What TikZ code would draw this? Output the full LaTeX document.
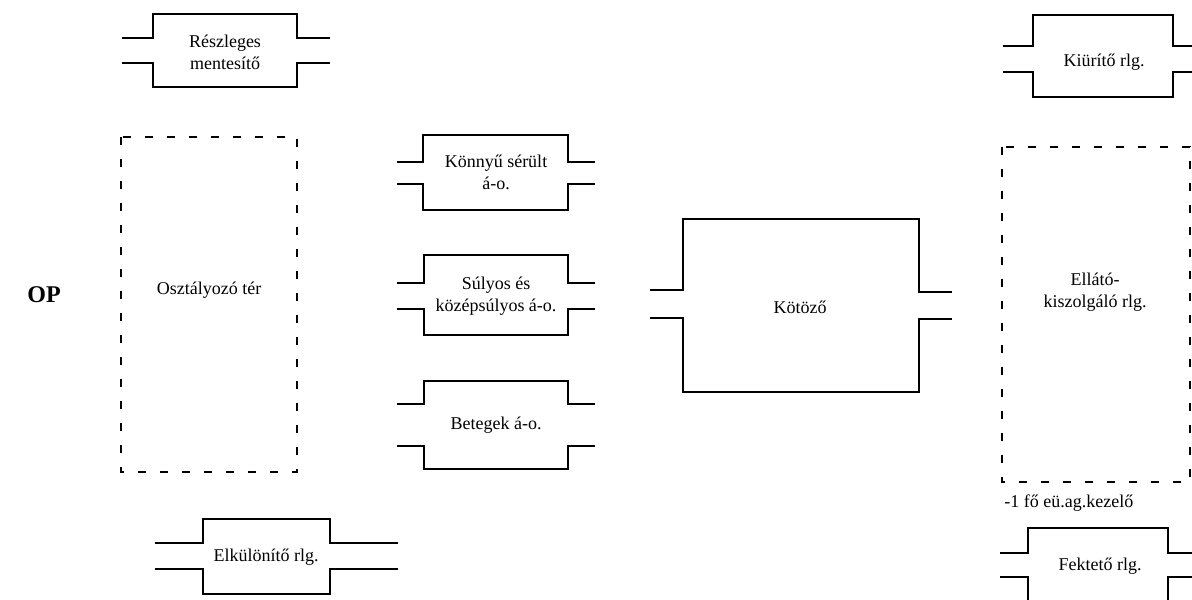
\documentclass[tikz,border=0pt]{standalone}
\usepackage{fontspec}
\setmainfont{Liberation Serif}
\usetikzlibrary{positioning}

\begin{document}
\begin{tikzpicture}
    [
    x=0.5pt,y=-0.5pt,
    wall/.style={line width=0.9pt},
    zone/.style={line width=0.8pt,dash pattern=on 4pt off 7pt},
    roomtext/.style={font=\small,align=center,inner sep=1pt},
    ]
    \useasboundingbox (0,0) rectangle (1192,599);
    \clip (0,0) rectangle (1192,599);

    % left column
    \node (op) at (44,295) [font=\large\bfseries] {OP};
    \node (mentesito) at (225,52) [roomtext] {Részleges\\mentesítő};
    \draw [wall] (122,38) -- (153,38) -- (153,14) -- (297,14) -- (297,38) -- (330,38);
    \draw [wall] (122,63) -- (153,63) -- (153,87) -- (297,87) -- (297,63) -- (330,63);

    \node (osztalyozo) at (209,290) [roomtext] {Osztályozó tér};
    \draw [zone] (121,137) rectangle (297,472);

    \node (elkulonito) at (266,557) [roomtext] {Elkülönítő rlg.};
    \draw [wall] (155,543) -- (203,543) -- (203,519) -- (330,519) -- (330,543) -- (398,543);
    \draw [wall] (155,569) -- (203,569) -- (203,594) -- (330,594) -- (330,569) -- (398,569);

    % middle column
    \node (konnyu) at (496,172) [roomtext] {Könnyű sérült\\á-o.};
    \draw [wall] (397,162) -- (423,162) -- (423,135) -- (568,135) -- (568,162) -- (595,162);
    \draw [wall] (397,184) -- (423,184) -- (423,210) -- (568,210) -- (568,184) -- (595,184);

    \node (sulyos) at (496,296) [roomtext] {Súlyos és\\középsúlyos á-o.};
    \draw [wall] (397,283) -- (424,283) -- (424,255) -- (568,255) -- (568,283) -- (595,283);
    \draw [wall] (397,309) -- (424,309) -- (424,335) -- (568,335) -- (568,309) -- (595,309);

    \node (betegek) at (496,425) [roomtext] {Betegek á-o.};
    \draw [wall] (397,404) -- (424,404) -- (424,381) -- (568,381) -- (568,404) -- (595,404);
    \draw [wall] (397,446) -- (424,446) -- (424,469) -- (568,469) -- (568,446) -- (595,446);

    \node (kotozo) at (800,307) [roomtext] {Kötöző};
    \draw [wall] (650,290) -- (683,290) -- (683,219) -- (919,219) -- (919,292) -- (952,292);
    \draw [wall] (650,318) -- (683,318) -- (683,392) -- (919,392) -- (919,319) -- (952,319);

    % right column
    \node (kiurito) at (1104,62) [roomtext] {Kiürítő rlg.};
    \draw [wall] (1003,46) -- (1033,46) -- (1033,15) -- (1173,15) -- (1173,46) -- (1192,46);
    \draw [wall] (1003,72) -- (1033,72) -- (1033,97) -- (1173,97) -- (1173,72) -- (1192,72);

    \node (ellato) at (1095,292) [roomtext] {Ellátó-\\kiszolgáló rlg.};
    \draw [zone] (1002,147) rectangle (1190,482);
    \node (kezelo) at (1002,503) [roomtext, anchor=west] {-1 fő eü.ag.kezelő};

    \node (fekteto) at (1100,566) [roomtext] {Fektető rlg.};
    \draw [wall] (1000,553) -- (1028,553) -- (1028,528) -- (1168,528) -- (1168,553) -- (1192,553);
    \draw [wall] (1000,577) -- (1028,577) -- (1028,610) (1168,610) -- (1168,577) -- (1192,577);
  \end{tikzpicture}
\end{document}
